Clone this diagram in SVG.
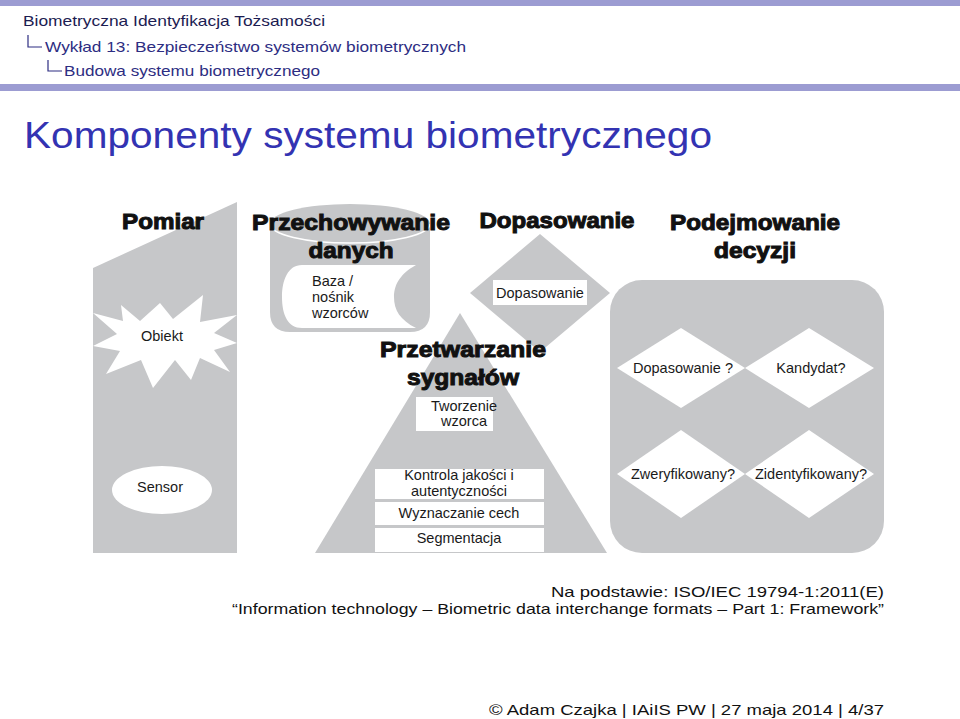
<svg xmlns="http://www.w3.org/2000/svg" width="960" height="719" viewBox="0 0 960 719">
<style>
.bar{fill:#9c9cd2}
.hd{font-family:"Liberation Sans",Arial,sans-serif;font-size:15px;fill:#2d2d82}
.hd1{fill:#1c1c52}
.tree{fill:none;stroke:#2d2d82;stroke-width:1.2}
.title{font-family:"Liberation Sans",Arial,sans-serif;font-size:36px;fill:#3333b2}
.g{fill:#c6c7c9}
.w{fill:#ffffff}
.big{font-family:"Liberation Sans",Arial,sans-serif;font-size:22px;font-weight:bold;fill:#111111;stroke:#111111;stroke-width:1}
.lbl{font-family:"Liberation Sans",Arial,sans-serif;font-size:14.5px;fill:#1a1a1a}
.mid{text-anchor:middle}
.ft{font-family:"Liberation Sans",Arial,sans-serif;font-size:15px;fill:#111111}
</style>
<rect width="960" height="719" fill="#ffffff"/>
<g id="header">
<rect class="bar" x="0" y="0" width="960" height="6"/>
<rect class="bar" x="0" y="84" width="960" height="7"/>
<text class="hd hd1" x="23" y="26" textLength="302" lengthAdjust="spacingAndGlyphs">Biometryczna Identyfikacja Tożsamości</text>
<path class="tree" d="M28,35 V47 H42 M48,60 V71 H62"/>
<text class="hd" x="45" y="52" textLength="421" lengthAdjust="spacingAndGlyphs">Wykład 13: Bezpieczeństwo systemów biometrycznych</text>
<text class="hd" x="64" y="76" textLength="256" lengthAdjust="spacingAndGlyphs">Budowa systemu biometrycznego</text>
</g>
<g id="title">
<text class="title" x="24" y="148" textLength="688" lengthAdjust="spacingAndGlyphs">Komponenty systemu biometrycznego</text>
</g>
<g id="pomiar">
<polygon class="g" points="93,268 237,202 237,553 93,553"/>
<polygon class="w" points="121,305 140,321 160,303 173,319 203,295 200,322 237,315 214,333 237,343 214,350 230,372 200,358 191,380 175,360 153,388 141,360 106,374 120,351 93,346 117,334 93,313 123,321"/>
<ellipse class="w" cx="162" cy="490" rx="50" ry="24"/>
<text class="big mid" x="163" y="229" textLength="82" lengthAdjust="spacingAndGlyphs">Pomiar</text>
<text class="lbl mid" x="162" y="341">Obiekt</text>
<text class="lbl mid" x="160" y="492">Sensor</text>
</g>
<g id="przechowywanie">
<path class="g" d="M270,224 L270,312 Q270,332 290,332 L410,332 Q430,332 430,312 L430,224 A80,20 0 0 0 270,224 Z"/>
<path d="M270,224 A80,19 0 0 0 430,224" fill="none" stroke="#ffffff" stroke-width="1.5"/>
<path class="w" d="M302,265 L416,265 C398,275 394,287 394,297 C394,310 400,320 416,328 L302,328 C288,328 282,315 282,297 C282,280 288,265 302,265 Z"/>
<text class="big mid" x="351" y="230" textLength="198" lengthAdjust="spacingAndGlyphs">Przechowywanie</text>
<text class="big mid" x="351" y="258" textLength="85" lengthAdjust="spacingAndGlyphs">danych</text>
<text class="lbl" x="312" y="286">Baza /</text>
<text class="lbl" x="312" y="302">nośnik</text>
<text class="lbl" x="312" y="318">wzorców</text>
</g>
<g id="dopasowanie">
<polygon class="g" points="470,293 540,234 610,293 540,352"/>
<rect class="w" x="493" y="280" width="94" height="25"/>
<text class="big mid" x="557" y="228" textLength="155" lengthAdjust="spacingAndGlyphs">Dopasowanie</text>
<text class="lbl mid" x="540" y="298">Dopasowanie</text>
</g>
<g id="przetwarzanie">
<polygon class="g" points="460,313 607,553 315,553"/>
<rect class="w" x="416" y="397" width="77" height="34"/>
<rect class="w" x="375" y="469" width="169" height="30"/>
<rect class="w" x="375" y="502" width="169" height="23"/>
<rect class="w" x="375" y="528" width="169" height="24"/>
<text class="big mid" x="463" y="357" textLength="166" lengthAdjust="spacingAndGlyphs">Przetwarzanie</text>
<text class="big mid" x="463" y="385" textLength="112" lengthAdjust="spacingAndGlyphs">sygnałów</text>
<text class="lbl mid" x="464" y="411">Tworzenie</text>
<text class="lbl mid" x="464" y="426">wzorca</text>
<text class="lbl mid" x="459" y="480">Kontrola jakości  i</text>
<text class="lbl mid" x="459" y="496">autentyczności</text>
<text class="lbl mid" x="459" y="518">Wyznaczanie cech</text>
<text class="lbl mid" x="459" y="543">Segmentacja</text>
</g>
<g id="decyzja">
<rect class="g" x="610" y="280" width="274" height="273" rx="32" ry="32"/>
<polygon class="w" points="617,368 681,328 745,368 681,408"/>
<polygon class="w" points="745,368 809,328 874,368 809,408"/>
<polygon class="w" points="617,474 681,430 745,474 681,518"/>
<polygon class="w" points="745,474 809,430 874,474 809,518"/>
<text class="big mid" x="755" y="230" textLength="170" lengthAdjust="spacingAndGlyphs">Podejmowanie</text>
<text class="big mid" x="755" y="258" textLength="82" lengthAdjust="spacingAndGlyphs">decyzji</text>
<text class="lbl mid" x="683" y="373">Dopasowanie ?</text>
<text class="lbl mid" x="811" y="373">Kandydat?</text>
<text class="lbl mid" x="683" y="479">Zweryfikowany?</text>
<text class="lbl mid" x="811" y="479">Zidentyfikowany?</text>
</g>
<g id="connectors"></g>
<g id="footer">
<text class="ft" x="884" y="597" text-anchor="end" textLength="333" lengthAdjust="spacingAndGlyphs">Na podstawie: ISO/IEC 19794-1:2011(E)</text>
<text class="ft" x="884" y="614" text-anchor="end" textLength="652" lengthAdjust="spacingAndGlyphs">“Information technology – Biometric data interchange formats – Part 1: Framework”</text>
<text class="ft" x="884" y="715" text-anchor="end" textLength="395" lengthAdjust="spacingAndGlyphs">© Adam Czajka | IAiIS PW | 27 maja 2014 | 4/37</text>
</g>
</svg>
